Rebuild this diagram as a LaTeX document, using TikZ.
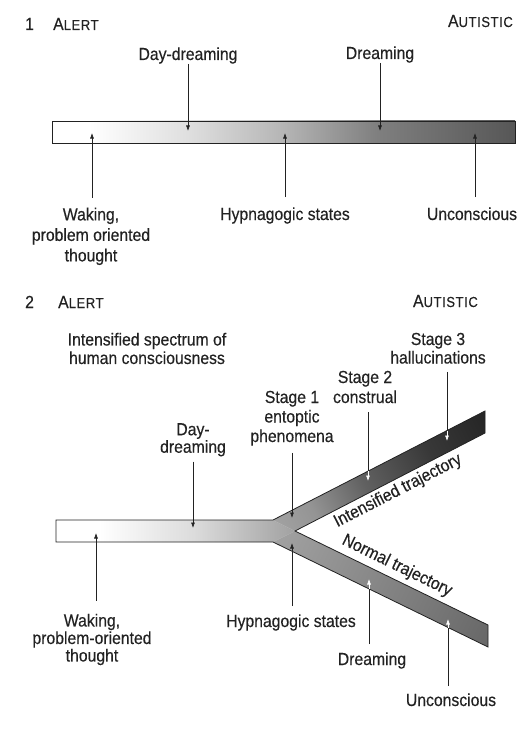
\documentclass[tikz,border=0pt]{standalone}
\usepackage{fontspec}
\setmainfont{Liberation Sans}[FakeStretch=0.9,FakeBold=0.3]
\newfontfamily\scfont{Liberation Sans}[FakeStretch=0.9,FakeBold=0.3,LetterSpace=4]
\usetikzlibrary{arrows.meta,calc}
\definecolor{ink}{HTML}{222222}
\newcommand\mysc[2]{{\fontsize{17.5}{20}\selectfont #1}{\scfont\fontsize{14.5}{17}\selectfont #2}}
\pgfdeclarehorizontalshading{barone}{100bp}{color(0bp)=(white); color(25bp)=(white); color(29bp)=(white); color(40bp)=(black!13); color(50bp)=(black!29); color(60bp)=(black!50); color(75bp)=(black!66); color(100bp)=(black!66)}
\pgfdeclarehorizontalshading{bartwo}{100bp}{color(0bp)=(white); color(25bp)=(white); color(34bp)=(white); color(54bp)=(black!14); color(75bp)=(black!37); color(100bp)=(black!37)}
\pgfdeclarehorizontalshading{upbranch}{100bp}{color(0bp)=(black!37); color(29bp)=(black!37); color(36bp)=(black!42); color(47bp)=(black!62); color(61bp)=(black!78); color(75bp)=(black!86); color(100bp)=(black!86)}
\pgfdeclarehorizontalshading{lowbranch}{100bp}{color(0bp)=(black!37); color(29bp)=(black!37); color(47bp)=(black!46); color(75bp)=(black!60); color(100bp)=(black!60)}
\begin{document}
\begin{tikzpicture}[x=1pt,y=-1pt,
  lab/.style={inner sep=0pt, text=ink, font=\fontsize{17.5}{20}\selectfont},
  arr/.style={draw=ink, line width=0.65pt, -{Latex[length=5.5pt,width=4pt]}},
  seg/.style={draw=ink, line width=0.65pt},
  warr/.style={draw=white, line width=0.65pt, -{Latex[length=5.5pt,width=4pt]}},
  barline/.style={draw=ink, line width=0.8pt, line join=miter}]
\fill[white] (0,0) rectangle (524,733);
\useasboundingbox (0,0) rectangle (524,733);

% ---------------- Diagram 1 ----------------
\node[lab, anchor=base west] (one) at (25,30) {1};
\node[lab, anchor=base west] (al1) at (53,30) {\mysc{A}{LERT}};
\node[lab, anchor=base east] (au1) at (513,27) {\mysc{A}{UTISTIC}};

\shade[shading=barone] (52,121) rectangle (515,143);
\draw[barline] (52,121) rectangle (515,143);

\node[lab, anchor=base] (dd1) at (188,60) {Day-dreaming};
\node[lab, anchor=base] (dr1) at (380,59) {Dreaming};
\coordinate (dd1t) at (188,131);
\coordinate (dr1t) at (380,131);
\draw[arr] (dd1.south -| dd1t) -- (dd1t);
\draw[arr] (dr1.south -| dr1t) -- (dr1t);

\node[lab, anchor=north, align=center, font=\fontsize{17.5}{20.5}\selectfont] (wk1) at (91,207.5) {Waking,\\problem oriented\\thought};
\node[lab, anchor=base] (hy1) at (285,220) {Hypnagogic states};
\node[lab, anchor=base] (un1) at (472,220) {Unconscious};
\coordinate (wk1t) at (92,133);
\coordinate (hy1t) at (285,133);
\coordinate (un1t) at (475,133);
\draw[arr] ($(wk1.north -| wk1t)+(0,-10)$) -- (wk1t);
\draw[arr] ($(hy1.north -| hy1t)+(0,-10)$) -- (hy1t);
\draw[arr] ($(un1.north -| un1t)+(0,-10)$) -- (un1t);

% ---------------- Diagram 2 ----------------
\node[lab, anchor=base west] (two) at (25,308) {2};
\node[lab, anchor=base west] (al2) at (58,308) {\mysc{A}{LERT}};
\node[lab, anchor=base east] (au2) at (478,307) {\mysc{A}{UTISTIC}};

\node[lab, anchor=north, align=center, font=\fontsize{17.5}{18.5}\selectfont] (in2) at (147,332.6) {Intensified spectrum of\\human consciousness};
\node[lab, anchor=north, align=center, font=\fontsize{17.5}{18.5}\selectfont] (s3) at (438,332.6) {Stage 3\\hallucinations};
\node[lab, anchor=north, align=center] (s2) at (365,370.6) {Stage 2\\construal};
\node[lab, anchor=north, align=center, font=\fontsize{17.5}{19.5}\selectfont] (s1) at (292,390.6) {Stage 1\\entoptic\\phenomena};
\node[lab, anchor=north, align=center, font=\fontsize{17.5}{17.5}\selectfont] (dd2) at (193,423) {Day-\\dreaming};

% branch geometry
\coordinate (a1) at (56,520);
\coordinate (a2) at (273,520);
\coordinate (v)  at (295,531);
\coordinate (a3) at (273,542);
\coordinate (a4) at (56,542);
\coordinate (u1) at (485,411);
\coordinate (u2) at (485,433);
\coordinate (l1) at (488,625);
\coordinate (l2) at (488,647);

\shade[shading=bartwo] (a1) -- (a2) -- (v) -- (a3) -- (a4) -- cycle;
\begin{scope}
  \clip (a2) -- (u1) -- (u2) -- (v) -- cycle;
  \shade[shading=upbranch, transform canvas={shift={(282,531)}, rotate=27.2}] (-20,-40) rectangle (240,40);
\end{scope}
\begin{scope}
  \clip (v) -- (l1) -- (l2) -- (a3) -- cycle;
  \shade[shading=lowbranch, transform canvas={shift={(282,531)}, rotate=-26}] (-20,-40) rectangle (240,40);
\end{scope}
\draw[barline] (a1) -- (a2) -- (u1) -- (u2) -- (v) -- (l1) -- (l2) -- (a3) -- (a4) -- cycle;

\node[lab, rotate=27.2] (it2) at (398,491) {Intensified trajectory};
\node[lab, rotate=-26] (nt2) at (397,566) {Normal trajectory};

% arrows from above
\coordinate (dd2t) at (193,528);
\coordinate (s1t) at (292,518);
\coordinate (s2e) at (368,471.2);
\coordinate (s2t) at (368,481);
\coordinate (s3e) at (447,430.5);
\coordinate (s3t) at (447,441);
\draw[arr] ($(dd2.south -| dd2t)+(0,5)$) -- (dd2t);
\draw[arr] ($(s1.south -| s1t)+(0,7)$) -- (s1t);
\draw[seg] ($(s2.south -| s2e)+(0,9)$) -- (s2e);
\draw[warr] (s2e) -- (s2t);
\draw[seg] ($(s3.south -| s3e)+(0,8)$) -- (s3e);
\draw[warr] (s3e) -- (s3t);

% labels below
\node[lab, anchor=north, align=center, font=\fontsize{17.5}{17.5}\selectfont] (wk2) at (92,613.6) {Waking,\\problem-oriented\\thought};
\node[lab, anchor=base] (hy2) at (291,627) {Hypnagogic states};
\node[lab, anchor=base] (dm2) at (372,665) {Dreaming};
\node[lab, anchor=base] (un2) at (451,706) {Unconscious};

\coordinate (wk2t) at (96,533);
\coordinate (hy2t) at (292,543);
\coordinate (dm2e) at (369,588.9);
\coordinate (dm2t) at (369,579);
\coordinate (un2e) at (448,627.5);
\coordinate (un2t) at (448,619);
\draw[arr] ($(wk2.north -| wk2t)+(0,-13)$) -- (wk2t);
\draw[arr] ($(hy2.north -| hy2t)+(0,-8)$) -- (hy2t);
\draw[seg] ($(dm2.north -| dm2e)+(0,-8)$) -- (dm2e);
\draw[warr] (dm2e) -- (dm2t);
\draw[seg] ($(un2.north -| un2e)+(0,-7)$) -- (un2e);
\draw[warr] (un2e) -- (un2t);
\end{tikzpicture}
\end{document}
